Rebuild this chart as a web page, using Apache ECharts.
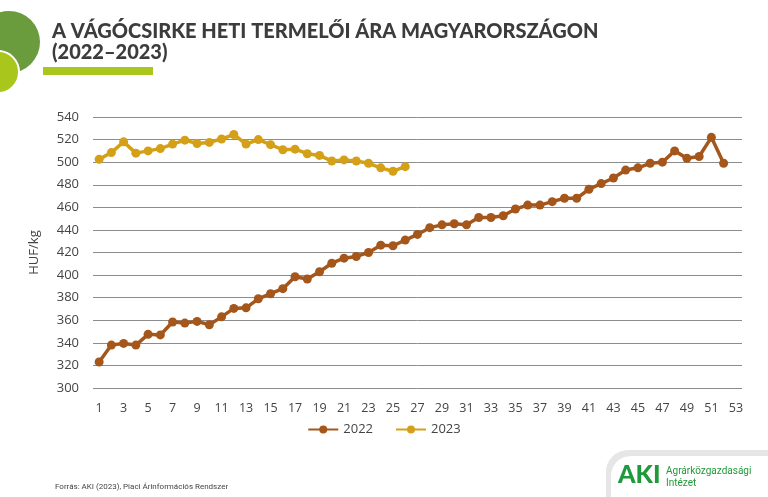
<!DOCTYPE html>
<html>
<head>
<meta charset="utf-8">
<script src="https://cdn.jsdelivr.net/npm/echarts@6/dist/echarts.min.js"></script>
<style>html,body{margin:0;padding:0;background:#fff;}#c{width:768px;height:497px;}</style>
</head>
<body>
<div id="c"></div>
<script>
var weeks = [];
for (var i = 1; i <= 53; i++) weeks.push(String(i));
var yTicks = [300, 540, 20];
var series2022 = [323, 338, 339.5, 338, 347.5, 347, 358.5, 357.5, 359, 356, 363, 370.5, 371, 379, 383.5, 388, 398.5, 396.5, 403, 410.5, 415, 416.5, 420, 426.5, 426, 431, 436, 442, 444.5, 445.5, 444.5, 451, 451, 452.5, 458.5, 462, 462, 465, 468, 468, 476, 481, 486, 493, 495, 499, 500, 510, 503.5, 505, 522, 499];
var series2023 = [502.5, 508.5, 518, 508, 510, 512, 516, 519.5, 516.5, 517.5, 520.5, 524.5, 516, 520, 515.5, 511, 511.5, 507.5, 506, 501, 502, 501, 499, 495, 492, 496];
var names = ['2022', '2023'];
var colors = ['#A5561B', '#D4A017'];

var chart = echarts.init(document.getElementById('c'));
chart.setOption({
  animation: false,
  backgroundColor: '#ffffff',
  textStyle: {fontFamily: 'Open Sans, sans-serif'},
  graphic: [
    {type: 'circle', shape: {cx: 9, cy: 42, r: 31}, style: {fill: '#6A9B3C'}},
    {type: 'circle', shape: {cx: -2, cy: 72, r: 21}, style: {fill: '#A9C61C', stroke: '#ffffff', lineWidth: 2}},
    {type: 'text', left: 52, top: 22, style: {text: 'A VÁGÓCSIRKE HETI TERMELŐI ÁRA MAGYARORSZÁGON', fontFamily: 'Lato, sans-serif', fontWeight: 900, fontSize: 20, fill: '#3C3C3C'}},
    {type: 'text', left: 52, top: 43, style: {text: '(2022–2023)', fontFamily: 'Lato, sans-serif', fontWeight: 900, fontSize: 20, fill: '#3C3C3C'}},
    {type: 'rect', shape: {x: 43, y: 67, width: 110, height: 8}, style: {fill: '#A9C61C'}},
    {type: 'text', left: 55, top: 483, style: {text: 'Forrás: AKI (2023), Piaci Árinformációs Rendszer', fontFamily: 'Liberation Sans Narrow, Roboto, sans-serif', fontSize: 8, fill: '#444'}},
    {type: 'rect', shape: {x: 606, y: 450, width: 180, height: 60, r: [22, 0, 0, 0]}, style: {fill: '#E6E6E6'}},
    {type: 'rect', shape: {x: 611, y: 456, width: 180, height: 60, r: [20, 0, 0, 0]}, style: {fill: '#ffffff'}},
    {type: 'text', left: 618, top: 462, style: {text: 'AKI', fontFamily: 'Lato, sans-serif', fontWeight: 900, fontSize: 25, fill: '#1F9A3A'}},
    {type: 'text', left: 666, top: 465, style: {text: 'Agrárközgazdasági\nIntézet', fontFamily: 'Roboto, sans-serif', fontSize: 10, lineHeight: 12, fill: '#1F9A3A'}}
  ],
  grid: {left: 93, right: 26, top: 117, bottom: 109, containLabel: false},
  legend: {
    data: names,
    bottom: 56,
    left: 'center',
    itemWidth: 30,
    itemHeight: 10,
    itemGap: 22,
    textStyle: {fontSize: 13, color: '#444'}
  },
  xAxis: {
    type: 'category',
    data: weeks,
    boundaryGap: true,
    axisLine: {show: false},
    axisTick: {show: false},
    axisLabel: {interval: 1, fontSize: 12.5, color: '#444', margin: 14}
  },
  yAxis: {
    type: 'value',
    min: yTicks[0],
    max: yTicks[1],
    interval: yTicks[2],
    name: 'HUF/kg',
    nameLocation: 'middle',
    nameGap: 52,
    nameTextStyle: {fontSize: 13, color: '#444'},
    axisLine: {show: false},
    axisTick: {show: false},
    axisLabel: {fontSize: 13, color: '#444', margin: 14},
    splitLine: {lineStyle: {color: '#8C8C8C', width: 1}}
  },
  series: [
    {name: names[0], type: 'line', data: series2022, symbol: 'circle', symbolSize: 9, showAllSymbol: true,
     lineStyle: {width: 3.5, color: colors[0]}, itemStyle: {color: colors[0]}},
    {name: names[1], type: 'line', data: series2023, symbol: 'circle', symbolSize: 9, showAllSymbol: true,
     lineStyle: {width: 3.5, color: colors[1]}, itemStyle: {color: colors[1]}}
  ]
});
</script>
</body>
</html>
